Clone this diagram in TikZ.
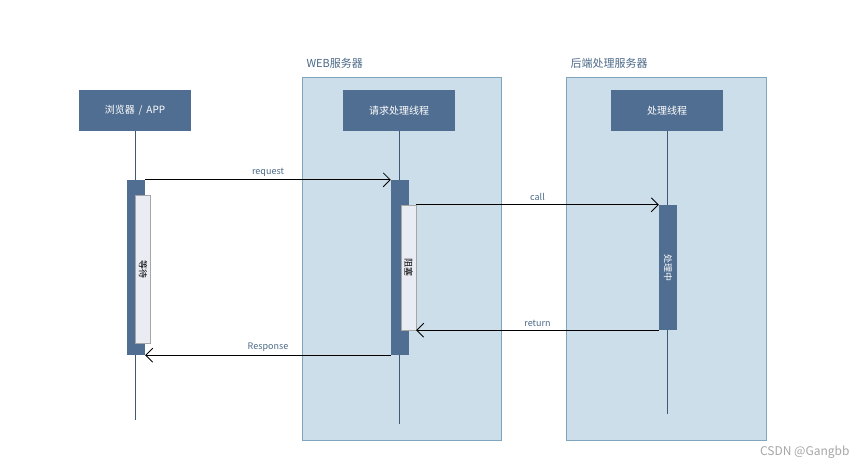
\documentclass[tikz,border=0pt]{standalone}
\usepackage{fontspec}
\setmainfont{Noto Sans CJK SC}
\usetikzlibrary{arrows.meta,positioning,calc}
\definecolor{hdr}{HTML}{506E91}
\definecolor{boxfill}{HTML}{CCDEE9}
\definecolor{boxline}{HTML}{7FA5BF}
\definecolor{lite}{HTML}{E9ECF2}
\definecolor{lbl}{HTML}{4A6886}
\tikzset{
  header/.style={fill=hdr,text=white,minimum width=112pt,minimum height=41pt,inner sep=0pt,font=\fontsize{10}{12}\selectfont},
  server/.style={draw=boxline,fill=boxfill,line width=0.8pt},
  actbar/.style={fill=hdr,minimum width=18pt,inner sep=0pt},
  waitbar/.style={fill=lite,draw=gray!70,line width=0.4pt,minimum width=15pt,inner sep=0pt},
  life/.style={draw=hdr!80!black,line width=0.6pt},
  msg/.style={->,line width=0.8pt},
  tag/.style={text=lbl,font=\fontsize{9}{11}\selectfont},
  vtext/.style={rotate=-90,font=\fontsize{9}{11}\selectfont}
}
\begin{document}
\begin{tikzpicture}[x=1pt,y=-1pt,>={Straight Barb[length=7pt,width=14pt]}]
  \useasboundingbox (0,0) rectangle (868,472);
  % servers
  \draw[server] (302,77) rectangle (501,440);
  \draw[server] (566,77) rectangle (766,440);
  \node[tag,anchor=west,font=\fontsize{11}{13}\selectfont] (webtitle) at (303,63) {WEB服务器};
  \node[tag,anchor=west,font=\fontsize{11}{13}\selectfont] (backtitle) at (567,63) {后端处理服务器};
  % participants
  \node[header] (browser) at (135,110.5) {浏览器 \,/\, APP};
  \node[header] (handler) at (399,110.5) {请求处理线程};
  \node[header] (worker) at (667,110.5) {处理线程};
  \coordinate (browserend) at (135,420);
  \coordinate (handlerend) at (399,424);
  \coordinate (workerend) at (667,414);
  \draw[life] (browser.south) -- (browserend);
  \draw[life] (handler.south) -- (handlerend);
  \draw[life] (worker.south) -- (workerend);
  % activations
  \node[actbar,minimum height=175pt] (bact) at (136,267.5) {};
  \node[waitbar,minimum height=148pt] (bwait) at (143,269) {};
  \node[vtext] at (bwait) {等待};
  \node[actbar,minimum height=175pt] (hact) at (400,267.5) {};
  \node[waitbar,minimum height=125pt] (hwait) at (408.5,267.5) {};
  \node[vtext] at (hwait) {阻塞};
  \node[actbar,minimum height=125pt] (wact) at (668,267.5) {};
  \node[vtext,text=white] at (wact) {处理中};
  % messages
  \draw[msg] (bact.north east) -- node[tag,above] {request} (hact.north west);
  \draw[msg] (hwait.north east) -- node[tag,above] {call} (wact.north west);
  \draw[msg] (wact.south west) -- node[tag,above] {return} (hwait.south east);
  \draw[msg] (hact.south west) -- node[tag,above] {Response} (bact.south east);
  \node[text=gray!70,anchor=east,font=\fontsize{12}{14}\selectfont] (mark) at (853,452) {CSDN @Gangbb};
\end{tikzpicture}
\end{document}
